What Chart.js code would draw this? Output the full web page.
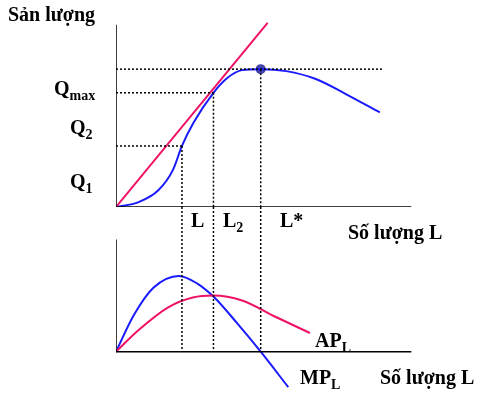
<!DOCTYPE html>
<html><head><meta charset="utf-8">
<script src="https://cdn.jsdelivr.net/npm/chart.js@4"></script>
<style>
html,body{margin:0;padding:0;background:#fff;}
#wrap{position:relative;width:500px;height:403px;}
.t{position:absolute;font-family:"Liberation Serif",serif;font-weight:bold;font-size:20px;color:#000;white-space:nowrap;line-height:1;}
.t sub{font-size:14px;vertical-align:-5px;}
</style></head><body>
<div id="wrap"><canvas id="c" width="500" height="403"></canvas>
<div class="t" style="left:8px;top:4px">Sản lượng</div>
<div class="t" style="left:54px;top:78px">Q<sub>max</sub></div>
<div class="t" style="left:70px;top:117px">Q<sub>2</sub></div>
<div class="t" style="left:70px;top:171px">Q<sub>1</sub></div>
<div class="t" style="left:191px;top:210px">L</div>
<div class="t" style="left:223px;top:210px">L<sub>2</sub></div>
<div class="t" style="left:280px;top:210px">L*</div>
<div class="t" style="left:348px;top:222px">Số lượng L</div>
<div class="t" style="left:315px;top:330px">AP<sub>L</sub></div>
<div class="t" style="left:300px;top:367px">MP<sub>L</sub></div>
<div class="t" style="left:380px;top:367px">Số lượng L</div>
</div>
<script>
// top panel (output)
const tpX=[0,1.15,2.15,2.9,3.35,3.95,4.95,5.65,6.4,7.35,8.65,10.15,11.65,13.4];
const tpY=[0,0.25,0.85,1.9,3.1,4.3,5.8,6.55,6.95,7.0,6.9,6.5,5.75,4.8];
const rayX=[0,7.7], rayY=[0,9.35];
const L1=3.35, L2=4.95, Lstar=7.35;
const Q1=3.1, Q2=5.8, Qmax=7.0;
// bottom panel (MP, AP)
const mpX=[0,0.9,1.9,3.2,4.15,4.95,6.15,7.35,8.75];
const mpY=[0,1.85,3.25,3.85,3.45,2.8,1.45,0,-1.8];
const apX=[0,1.15,2.65,3.9,4.95,6.4,8.15,9.85];
const apY=[0,1.1,2.25,2.75,2.85,2.6,1.75,0.95];
const zip=(a,b)=>a.map((v,i)=>({x:v,y:b[i]}));
const blue='#1a1aff', pink='#ee1166';
const line=(data,color,axis,extra)=>Object.assign({data,borderColor:color,borderWidth:2,showLine:true,pointRadius:0,fill:false,yAxisID:axis},extra||{});
const dot={borderDash:[2,2],borderWidth:1.5};
const T='yTop', B='yBot';
const ds=[
 line([{x:0,y:0},{x:0,y:9.25}],'#000',T,{borderWidth:1.5}),
 line([{x:0,y:0},{x:15,y:0}],'#000',T,{borderWidth:1.5}),
 line([{x:0,y:Qmax},{x:13.6,y:Qmax}],'#000',T,dot),
 line([{x:0,y:Q2},{x:L2,y:Q2}],'#000',T,dot),
 line([{x:0,y:Q1},{x:L1,y:Q1}],'#000',T,dot),
 line([{x:L1,y:Q1},{x:L1,y:0}],'#000',T,dot),
 line([{x:L2,y:Q2},{x:L2,y:0}],'#000',T,dot),
 line([{x:Lstar,y:Qmax},{x:Lstar,y:0}],'#000',T,dot),
 line(zip(rayX,rayY),pink,T),
 line(zip(tpX,tpY),blue,T,{tension:0.4,cubicInterpolationMode:'monotone'}),
 line([{x:Lstar,y:Qmax}],'#4444aa',T,{showLine:false,pointRadius:4,pointBackgroundColor:'#4444aa'}),
 line([{x:0,y:0},{x:0,y:5.7}],'#000',B,{borderWidth:1.5}),
 line([{x:0,y:0},{x:15,y:0}],'#000',B,{borderWidth:1.5}),
 line([{x:L1,y:7.35},{x:L1,y:0}],'#000',B,dot),
 line([{x:L2,y:7.35},{x:L2,y:0}],'#000',B,dot),
 line([{x:Lstar,y:7.35},{x:Lstar,y:0}],'#000',B,dot),
 line(zip(apX,apY),pink,B,{tension:0.4,cubicInterpolationMode:'monotone'}),
 line(zip(mpX,mpY),blue,B,{tension:0.4,cubicInterpolationMode:'monotone'})
];
const hidY=()=>({ticks:{display:false,padding:0},grid:{display:false},border:{display:false},afterFit:s=>{s.width=0;}});
new Chart(document.getElementById('c'),{type:'scatter',data:{datasets:ds},
 options:{responsive:false,animation:false,layout:{padding:{left:116,top:15,right:0,bottom:0}},
  plugins:{legend:{display:false},tooltip:{enabled:false}},
  scales:{
   x:{type:'linear',min:0,max:19.2,ticks:{display:false,padding:0},grid:{display:false},border:{display:false},afterFit:s=>{s.height=0;}},
   yBot:Object.assign({type:'linear',position:'left',min:-2.3,max:7.35,stack:'s',stackWeight:193,offset:false},hidY()),
   yTop:Object.assign({type:'linear',position:'left',min:0,max:9.75,stack:'s',stackWeight:195,offset:false},hidY())
  }}});
</script></body></html>
